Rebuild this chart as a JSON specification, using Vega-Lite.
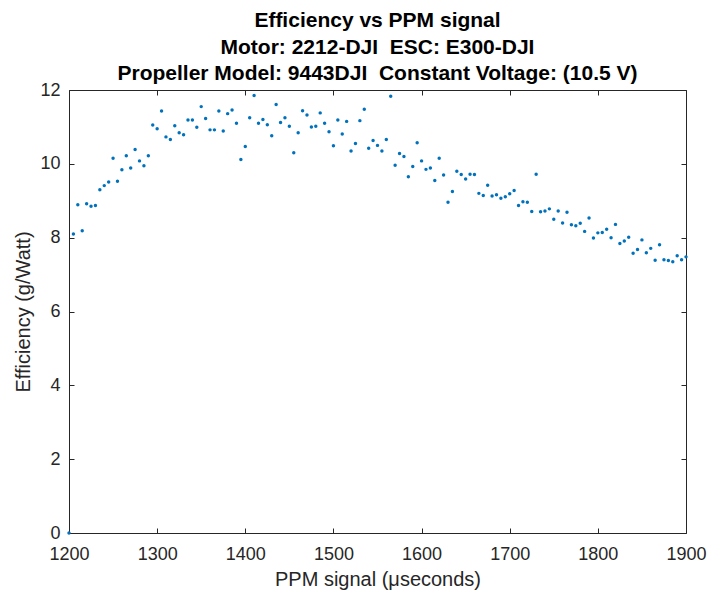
{
  "$schema": "https://vega.github.io/schema/vega-lite/v6.json",
  "autosize": {"type": "none"},
  "padding": {"left": 69, "top": 90, "right": 23, "bottom": 66},
  "width": 617,
  "height": 443,
  "background": "white",
  "config": {
    "font": "Liberation Sans",
    "view": {"stroke": "#262626", "strokeWidth": 1}
  },
  "title": {
    "text": ["Efficiency vs PPM signal", "Motor: 2212-DJI \u00a0ESC: E300-DJI", "Propeller Model: 9443DJI \u00a0Constant Voltage: (10.5 V)"],
    "font": "Liberation Sans",
    "fontSize": 21,
    "fontWeight": "bold",
    "lineHeight": 26.5,
    "color": "black",
    "anchor": "middle",
    "offset": -3
  },
  "data": {"values": [
    {"x":1200,"y":0},{"x":1205,"y":8.10},{"x":1210,"y":8.89},{"x":1215,"y":8.19},{"x":1220,"y":8.92},{"x":1225,"y":8.85},{"x":1230,"y":8.87},{"x":1235,"y":9.30},{"x":1240,"y":9.41},{"x":1245,"y":9.51},
    {"x":1250,"y":10.15},{"x":1255,"y":9.53},{"x":1260,"y":9.84},{"x":1265,"y":10.22},{"x":1270,"y":9.89},{"x":1275,"y":10.39},{"x":1280,"y":10.08},{"x":1285,"y":9.95},{"x":1290,"y":10.22},{"x":1295,"y":11.05},
    {"x":1300,"y":10.95},{"x":1305,"y":11.43},{"x":1310,"y":10.73},{"x":1315,"y":10.66},{"x":1320,"y":11.03},{"x":1325,"y":10.84},{"x":1330,"y":10.79},{"x":1335,"y":11.19},{"x":1340,"y":11.19},{"x":1345,"y":10.99},
    {"x":1350,"y":11.55},{"x":1355,"y":11.23},{"x":1360,"y":10.92},{"x":1365,"y":10.92},{"x":1370,"y":11.43},{"x":1375,"y":10.89},{"x":1380,"y":11.36},{"x":1385,"y":11.46},{"x":1390,"y":11.10},{"x":1395,"y":10.12},
    {"x":1400,"y":10.47},{"x":1405,"y":11.25},{"x":1410,"y":11.85},{"x":1415,"y":11.10},{"x":1420,"y":11.20},{"x":1425,"y":11.06},{"x":1430,"y":10.76},{"x":1435,"y":11.61},{"x":1440,"y":11.12},{"x":1445,"y":11.25},
    {"x":1450,"y":11.02},{"x":1455,"y":10.30},{"x":1460,"y":10.84},{"x":1465,"y":11.44},{"x":1470,"y":11.32},{"x":1475,"y":11.00},{"x":1480,"y":11.02},{"x":1485,"y":11.38},{"x":1490,"y":11.10},{"x":1495,"y":10.87},
    {"x":1500,"y":10.49},{"x":1505,"y":11.19},{"x":1510,"y":10.81},{"x":1515,"y":11.15},{"x":1520,"y":10.35},{"x":1525,"y":10.55},{"x":1530,"y":11.17},{"x":1535,"y":11.48},{"x":1540,"y":10.42},{"x":1545,"y":10.63},
    {"x":1550,"y":10.50},{"x":1555,"y":10.35},{"x":1560,"y":10.66},{"x":1565,"y":11.83},{"x":1570,"y":9.96},{"x":1575,"y":10.28},{"x":1580,"y":10.20},{"x":1585,"y":9.65},{"x":1590,"y":9.93},{"x":1595,"y":10.57},
    {"x":1600,"y":10.08},{"x":1605,"y":9.85},{"x":1610,"y":9.89},{"x":1615,"y":9.55},{"x":1620,"y":10.15},{"x":1625,"y":9.70},{"x":1630,"y":8.96},{"x":1635,"y":9.25},{"x":1640,"y":9.80},{"x":1645,"y":9.71},
    {"x":1650,"y":9.59},{"x":1655,"y":9.72},{"x":1660,"y":9.71},{"x":1665,"y":9.20},{"x":1670,"y":9.14},{"x":1675,"y":9.42},{"x":1680,"y":9.13},{"x":1685,"y":9.16},{"x":1690,"y":9.07},{"x":1695,"y":9.11},
    {"x":1700,"y":9.19},{"x":1705,"y":9.28},{"x":1710,"y":8.87},{"x":1715,"y":8.97},{"x":1720,"y":8.96},{"x":1725,"y":8.71},{"x":1730,"y":9.72},{"x":1735,"y":8.70},{"x":1740,"y":8.72},{"x":1745,"y":8.78},
    {"x":1750,"y":8.50},{"x":1755,"y":8.72},{"x":1760,"y":8.40},{"x":1765,"y":8.69},{"x":1770,"y":8.35},{"x":1775,"y":8.32},{"x":1780,"y":8.39},{"x":1785,"y":8.17},{"x":1790,"y":8.53},{"x":1795,"y":7.99},
    {"x":1800,"y":8.13},{"x":1805,"y":8.14},{"x":1810,"y":8.23},{"x":1815,"y":8.00},{"x":1820,"y":8.36},{"x":1825,"y":7.84},{"x":1830,"y":7.91},{"x":1835,"y":8.01},{"x":1840,"y":7.58},{"x":1845,"y":7.68},
    {"x":1850,"y":7.94},{"x":1855,"y":7.59},{"x":1860,"y":7.71},{"x":1865,"y":7.39},{"x":1870,"y":7.81},{"x":1875,"y":7.40},{"x":1880,"y":7.38},{"x":1885,"y":7.35},{"x":1890,"y":7.51},{"x":1895,"y":7.40},
    {"x":1900,"y":7.48}
  ]},
  "layer": [
    {
      "mark": {"type": "point", "filled": true, "size": 12, "color": "#0072BD", "opacity": 1},
      "encoding": {
        "x": {"field": "x", "type": "quantitative", "scale": {"domain": [1200, 1900], "nice": false, "zero": false},
          "axis": {"orient": "bottom", "title": "PPM signal (μseconds)", "values": [1200,1300,1400,1500,1600,1700,1800,1900], "format": "d",
            "grid": false, "domain": false, "tickSize": -5, "tickColor": "#262626", "labelFontSize": 18, "labelColor": "#262626",
            "labelPadding": 17, "labelFont": "Liberation Sans", "titleFont": "Liberation Sans", "titleFontSize": 20, "titleFontWeight": "normal",
            "titleColor": "#262626", "titlePadding": 6, "labelFlush": false}},
        "y": {"field": "y", "type": "quantitative", "scale": {"domain": [0, 12], "nice": false},
          "axis": {"orient": "left", "title": "Efficiency (g/Watt)", "values": [0,2,4,6,8,10,12],
            "grid": false, "domain": false, "tickSize": -5, "tickColor": "#262626", "labelFontSize": 18, "labelColor": "#262626",
            "labelPadding": 14, "labelFont": "Liberation Sans", "titleFont": "Liberation Sans", "titleFontSize": 20, "titleFontWeight": "normal",
            "titleColor": "#262626", "titlePadding": 6}}
      }
    },
    {
      "mark": {"type": "point", "opacity": 0},
      "encoding": {
        "x": {"field": "x", "type": "quantitative",
          "axis": {"orient": "top", "title": null, "labels": false, "values": [1200,1300,1400,1500,1600,1700,1800,1900],
            "grid": false, "domain": false, "tickSize": -5, "tickColor": "#262626"}},
        "y": {"field": "y", "type": "quantitative",
          "axis": {"orient": "right", "title": null, "labels": false, "values": [0,2,4,6,8,10,12],
            "grid": false, "domain": false, "tickSize": -5, "tickColor": "#262626"}}
      }
    }
  ],
  "resolve": {"axis": {"x": "independent", "y": "independent"}}
}
